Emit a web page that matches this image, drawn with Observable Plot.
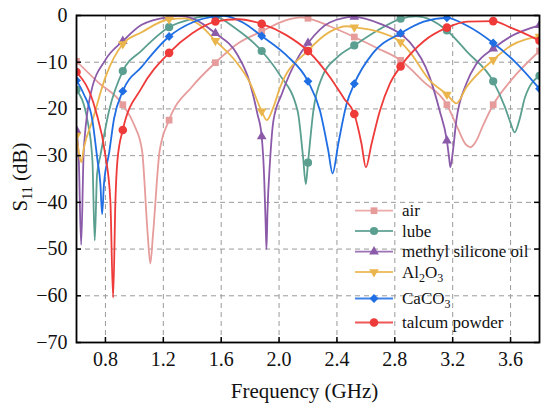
<!DOCTYPE html>
<html>
<head>
<meta charset="utf-8">
<script src="https://cdn.jsdelivr.net/npm/d3@7"></script>
<script src="https://cdn.jsdelivr.net/npm/@observablehq/plot@0.6"></script>
<style>
  html, body { margin: 0; padding: 0; background: #fff; }
  #chart { width: 550px; height: 410px; }
</style>
</head>
<body>
<div id="chart"></div>
<script>
// ---------- data ----------
const markerFreq = [0.6, 0.92, 1.24, 1.56, 1.88, 2.2, 2.52, 2.84, 3.16, 3.48, 3.8];
const xTicks = [0.8, 1.2, 1.6, 2.0, 2.4, 2.8, 3.2, 3.6];
const yTicks = [0, -10, -20, -30, -40, -50, -60, -70];

// air
const airF = [0.6, 0.75, 0.92, 1.0, 1.053, 1.092, 1.11, 1.129, 1.175, 1.24, 1.4, 1.56, 1.72, 1.88, 2.05, 2.15, 2.2, 2.35, 2.52, 2.68, 2.84, 3.0, 3.16, 3.24, 3.29, 3.324, 3.36, 3.41, 3.48, 3.6, 3.8];
const airV = [-9.8, -14.3, -19.1, -23.5, -28.9, -46.8, -53.1, -46.8, -28.9, -22.4, -15.2, -10.1, -5.9, -3.4, -1.0, -0.4, -0.6, -2.3, -4.6, -7.0, -9.6, -14.2, -19.1, -24.5, -27.6, -28.2, -27.0, -23.5, -19.1, -14.0, -7.6];
const airMarks = [-9.8, -19.1, -22.4, -10.1, -3.4, -0.6, -4.6, -9.6, -19.1, -19.1, -7.6];

// lube
const lubeF = [0.6, 0.676, 0.71, 0.726, 0.742, 0.765, 0.825, 0.92, 1.05, 1.24, 1.4, 1.53, 1.56, 1.7, 1.88, 2.0, 2.128, 2.165, 2.185, 2.2, 2.237, 2.3, 2.4, 2.52, 2.68, 2.84, 2.95, 3.16, 3.3, 3.48, 3.56, 3.6, 3.628, 3.66, 3.7, 3.8];
const lubeV = [-15.9, -22.5, -31, -48.2, -34, -30, -20.4, -11.9, -7.5, -2.5, -0.7, -0.1, -0.2, -2.8, -7.6, -12.5, -20.4, -30, -36.1, -31.5, -20.4, -13, -9, -6.4, -3.2, -0.7, -0.2, -3.2, -7.8, -14.1, -19.5, -23, -25, -22.5, -17.5, -12.9];
const lubeMarks = [-15.9, -11.9, -2.5, -0.2, -7.6, -31.5, -6.4, -0.7, -3.2, -14.1, -12.9];

// methyl silicone oil
const methF = [0.6, 0.616, 0.632, 0.65, 0.7, 0.8, 0.92, 1.05, 1.24, 1.3, 1.4, 1.56, 1.708, 1.8, 1.85, 1.88, 1.897, 1.908, 1.913, 1.92, 1.938, 1.961, 2.019, 2.133, 2.2, 2.35, 2.52, 2.7, 2.84, 2.903, 3.041, 3.11, 3.16, 3.175, 3.184, 3.202, 3.225, 3.294, 3.363, 3.48, 3.6, 3.8];
const methV = [-24.6, -31, -49.1, -29, -16.5, -9.5, -5.5, -2, -0.3, -0.1, -0.6, -3.8, -8.2, -14.6, -21, -25.9, -34.6, -45.4, -50, -42, -31, -22.5, -16.8, -8.9, -5.9, -1.5, -0.3, -1.8, -4.0, -5.7, -13.2, -20.4, -26.8, -30.4, -32.5, -28.9, -22.5, -14.6, -10.4, -7.1, -4.5, -2.1];
const methMarks = [-24.6, -5.5, -0.3, -3.8, -25.9, -5.9, -0.3, -4.0, -26.8, -7.1, -2.1];

// Al2O3
const alF = [0.6, 0.62, 0.634, 0.65, 0.71, 0.8, 0.92, 1.05, 1.24, 1.35, 1.45, 1.56, 1.7, 1.8, 1.88, 1.915, 1.961, 2.007, 2.2, 2.35, 2.47, 2.52, 2.7, 2.84, 2.903, 3.041, 3.16, 3.225, 3.294, 3.48, 3.6, 3.8];
const alV = [-25.7, -30, -31.4, -28.5, -22.5, -13.2, -6.1, -3.6, -0.8, -0.6, -2.0, -5.4, -9.8, -14.5, -20.5, -22.4, -19.6, -15.4, -7.5, -3.5, -2.3, -2.5, -3.6, -5.7, -7.8, -13.9, -16.9, -18.8, -15.4, -9.5, -6.5, -4.5];
const alMarks = [-25.7, -6.1, -0.8, -5.4, -20.5, -7.5, -2.5, -5.7, -16.9, -9.5, -4.5];

// CaCO3
const caF = [0.6, 0.65, 0.71, 0.745, 0.765, 0.777, 0.79, 0.825, 0.86, 0.92, 1.05, 1.24, 1.4, 1.56, 1.62, 1.75, 1.88, 2.05, 2.2, 2.283, 2.34, 2.37, 2.409, 2.467, 2.52, 2.65, 2.84, 3.0, 3.16, 3.3, 3.48, 3.65, 3.8];
const caV = [-13.9, -16.8, -22.5, -31, -36, -42.5, -36, -29.5, -22, -16.2, -11, -4.5, -1.5, -0.2, -0.05, -1.5, -4.4, -8.5, -14.1, -20.4, -28.9, -33.8, -27.5, -18.9, -14.6, -8, -3.8, -1.3, -0.5, -2.2, -5.9, -10.5, -15.7];
const caMarks = [-13.9, -16.2, -4.5, -0.2, -4.4, -14.1, -14.6, -3.8, -0.5, -5.9, -15.7];

// talcum powder
const talF = [0.6, 0.733, 0.8, 0.834, 0.853, 0.869, 0.883, 0.92, 1.05, 1.24, 1.4, 1.56, 1.72, 1.88, 2.05, 2.2, 2.352, 2.45, 2.52, 2.57, 2.6, 2.639, 2.697, 2.766, 2.84, 3.0, 3.16, 3.3, 3.48, 3.6, 3.68, 3.8];
const talV = [-12.1, -20.4, -30, -39.6, -60.4, -39.6, -31, -24.5, -15.5, -8.0, -3.8, -1.3, -0.8, -1.8, -4.2, -7.6, -13.2, -17.8, -21.1, -27.5, -32.5, -27.5, -20.4, -14.6, -10.9, -5.5, -2.6, -1.3, -1.2, -2.6, -3.6, -5.4];
const talMarks = [-12.1, -24.5, -8.0, -1.3, -1.8, -7.6, -21.1, -10.9, -2.6, -1.2, -5.4];

// ---------- styling ----------
const sqrt3 = Math.sqrt(3);
const triangleDown = {
  draw(context, size) {
    const y = -Math.sqrt(size / (sqrt3 * 3));
    context.moveTo(0, -y * 2);
    context.lineTo(-sqrt3 * y, y);
    context.lineTo(sqrt3 * y, y);
    context.closePath();
  }
};

const series = [
  {label: [["air", 0]], color: "#e79c9c", symbol: "square", d3sym: d3.symbolSquare, r: 3.8, F: airF, V: airV, M: airMarks},
  {label: [["lube", 0]], color: "#5b9f90", symbol: "circle", d3sym: d3.symbolCircle, r: 4.1, F: lubeF, V: lubeV, M: lubeMarks},
  {label: [["methyl silicone oil", 0]], color: "#8b5aa9", symbol: "triangle", d3sym: d3.symbolTriangle, r: 3.6, F: methF, V: methV, M: methMarks},
  {label: [["Al", 0], ["2", 1], ["O", 0], ["3", 1]], color: "#ebb54d", symbol: triangleDown, d3sym: triangleDown, r: 3.6, F: alF, V: alV, M: alMarks},
  {label: [["CaCO", 0], ["3", 1]], color: "#1f6ee3", symbol: "diamond2", d3sym: d3.symbolDiamond2, r: 4.0, F: caF, V: caV, M: caMarks},
  {label: [["talcum powder", 0]], color: "#ef3a3a", symbol: "circle", d3sym: d3.symbolCircle, r: 4.3, F: talF, V: talV, M: talMarks}
];

const W = 550, H = 410;
const mL = 76, mR = 11, mT = 15, mB = 68;
const innerW = W - mL - mR, innerH = H - mT - mB;

const marks = [
  Plot.gridX(xTicks, {stroke: "#9a9a9a", strokeOpacity: 1, strokeWidth: 1, strokeDasharray: "5,4"}),
  Plot.gridY(yTicks.filter(d => d !== 0 && d !== -70), {stroke: "#9a9a9a", strokeOpacity: 1, strokeWidth: 1, strokeDasharray: "5,4"})
];

for (const s of series) {
  const pts = s.F.map((f, i) => ({f, v: s.V[i]}));
  const mk = markerFreq.map((f, i) => ({f, v: s.M[i]}));
  marks.push(Plot.line(pts, {x: "f", y: "v", stroke: s.color, strokeWidth: 1.8, curve: "monotone-x", clip: true}));
  marks.push(Plot.dot(mk, {x: "f", y: "v", fill: s.color, stroke: "none", symbol: s.symbol, r: s.r, clip: true}));
}

marks.push(
  Plot.tickX(xTicks, {x: d => d, insetTop: innerH - 5, stroke: "#000", strokeWidth: 1.5}),
  Plot.tickY(yTicks, {y: d => d, insetRight: innerW - 5, stroke: "#000", strokeWidth: 1.5}),
  Plot.tickY(yTicks, {y: d => d, insetLeft: innerW - 5, stroke: "#000", strokeWidth: 1.5}),
  Plot.axisX(xTicks, {tickSize: 0, tickPadding: 9, tickFormat: d3.format(".1f"), label: null, fontSize: 20}),
  Plot.axisY(yTicks, {tickSize: 0, tickPadding: 9, tickFormat: d => d === 0 ? "0" : "\u2212" + Math.abs(d), label: null, fontSize: 20}),
  Plot.frame({stroke: "#000", strokeWidth: 1.8})
);

const chart = Plot.plot({
  width: W,
  height: H,
  marginLeft: mL,
  marginRight: mR,
  marginTop: mT,
  marginBottom: mB,
  x: {domain: [0.6, 3.8]},
  y: {domain: [-70, 0]},
  style: {fontFamily: "'Liberation Serif', 'Times New Roman', serif", fontSize: "20px", color: "#111", background: "#fff"},
  marks
});
document.getElementById("chart").appendChild(chart);

// ---------- axis titles & legend (text with subscripts) ----------
const svg = d3.select(chart);
const font = "'Liberation Serif', 'Times New Roman', serif";

svg.append("text")
  .attr("x", (mL + W - mR) / 2 - 3).attr("y", 398)
  .attr("text-anchor", "middle")
  .attr("font-family", font).attr("font-size", 21).attr("fill", "#111")
  .text("Frequency (GHz)");

const yl = svg.append("text")
  .attr("transform", "translate(27,177) rotate(-90)")
  .attr("text-anchor", "middle")
  .attr("font-family", font).attr("font-size", 21).attr("fill", "#111");
yl.append("tspan").text("S");
yl.append("tspan").attr("font-size", 14).attr("dy", 5).text("11");
yl.append("tspan").attr("dy", -5).text(" (dB)");

const legendY = [210.7, 231, 251.7, 272, 298.5, 322.5];
const lg = svg.append("g").attr("text-anchor", "start");
series.forEach((s, i) => {
  const y = legendY[i];
  lg.append("line").attr("x1", 355).attr("x2", 393).attr("y1", y).attr("y2", y)
    .attr("stroke", s.color).attr("stroke-width", 1.8).attr("stroke-opacity", 0.85);
  lg.append("path").attr("transform", `translate(374,${y})`)
    .attr("d", d3.symbol(s.d3sym, Math.PI * s.r * s.r)())
    .attr("fill", s.color);
  const t = lg.append("text").attr("x", 402).attr("y", y + 5.5)
    .attr("text-anchor", "start")
    .attr("font-family", font).attr("font-size", 17).attr("fill", "#111");
  let shifted = false;
  for (const [str, sub] of s.label) {
    const sp = t.append("tspan").text(str);
    if (sub) { sp.attr("font-size", 12).attr("dy", shifted ? 0 : 4); shifted = true; }
    else if (shifted) { sp.attr("dy", -4); shifted = false; }
  }
});
</script>
</body>
</html>
